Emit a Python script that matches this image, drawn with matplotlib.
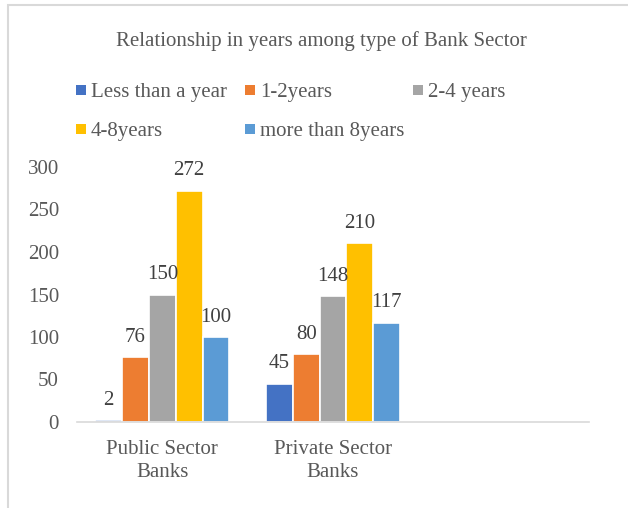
import matplotlib
matplotlib.use("Agg")
import matplotlib.pyplot as plt
from matplotlib.patches import Rectangle
import numpy as np

plt.rcParams['font.family'] = ['Liberation Serif', 'DejaVu Serif']

categories = ["Public Sector\nBanks", "Private Sector\nBanks", ""]
series_names = ["Less than a year", "1-2years", "2-4 years", "4-8years", "more than 8years"]
values = {
    "Less than a year": [2, 45, None],
    "1-2years": [76, 80, None],
    "2-4 years": [150, 148, None],
    "4-8years": [272, 210, None],
    "more than 8years": [100, 117, None],
}
colors = ["#4472C4", "#ED7D31", "#A5A5A5", "#FFC000", "#5B9BD5"]
yticks = [0, 50, 100, 150, 200, 250, 300]

W, H = 628, 508
fig = plt.figure(figsize=(W / 100, H / 100), dpi=100)
ax = fig.add_axes([77 / W, 1 - 422 / H, (589 - 77) / W, (422 - 167) / H])

txt = "#595959"
fs = 15
n = len(series_names)
bw = 0.157
x = np.arange(len(categories))
for i, name in enumerate(series_names):
    vals = values[name]
    xs = [xx + (i - (n - 1) / 2) * bw for xx, v in zip(x, vals) if v is not None]
    vs = [v for v in vals if v is not None]
    ax.bar(xs, vs, width=bw, color=colors[i], edgecolor="white", linewidth=1.2, label=name)
    for xx, v in zip(xs, vs):
        ax.annotate(str(v), (xx, v), xytext=(0, 7.5), textcoords="offset points",
                    ha="center", va="bottom", fontsize=fs, color="#404040")

ax.set_xlim(-0.5, 2.5)
ax.set_ylim(0, 300)
ax.set_yticks(yticks)
ax.set_xticks(x)
ax.set_xticklabels(categories)
ax.tick_params(axis="both", length=0, labelsize=fs, colors=txt)
ax.tick_params(axis="y", pad=13)
ax.tick_params(axis="x", pad=13)
for lab in ax.get_xticklabels():
    lab.set_linespacing(1.25)
for s in ["top", "right", "left"]:
    ax.spines[s].set_visible(False)
ax.spines["bottom"].set_color("#D9D9D9")
ax.spines["bottom"].set_linewidth(1.2)

fig.text(321 / W, 1 - 41 / H, "Relationship in years among type of Bank Sector",
         ha="center", va="center", fontsize=fs, color=txt)

# Legend laid out in a fixed grid (3 equal-width columns, Excel style)
col_x = [76, 245, 413]
row_y = [90, 129]
msz = 10
for k, name in enumerate(series_names):
    r, c = divmod(k, 3)
    lx, ly = col_x[c], row_y[r]
    fig.patches.append(Rectangle((lx / W, 1 - (ly + msz / 2) / H), msz / W, msz / H,
                                 transform=fig.transFigure, facecolor=colors[k],
                                 edgecolor="none"))
    fig.text((lx + msz + 5) / W, 1 - ly / H, name, ha="left", va="center_baseline",
             fontsize=fs, color=txt)

fig.patches.append(Rectangle((8 / W, -0.05), 1.0, 1 - 5 / H + 0.05, transform=fig.transFigure,
                             fill=False, edgecolor="#D9D9D9", linewidth=1.5))

fig.savefig("out.png", dpi=100)
